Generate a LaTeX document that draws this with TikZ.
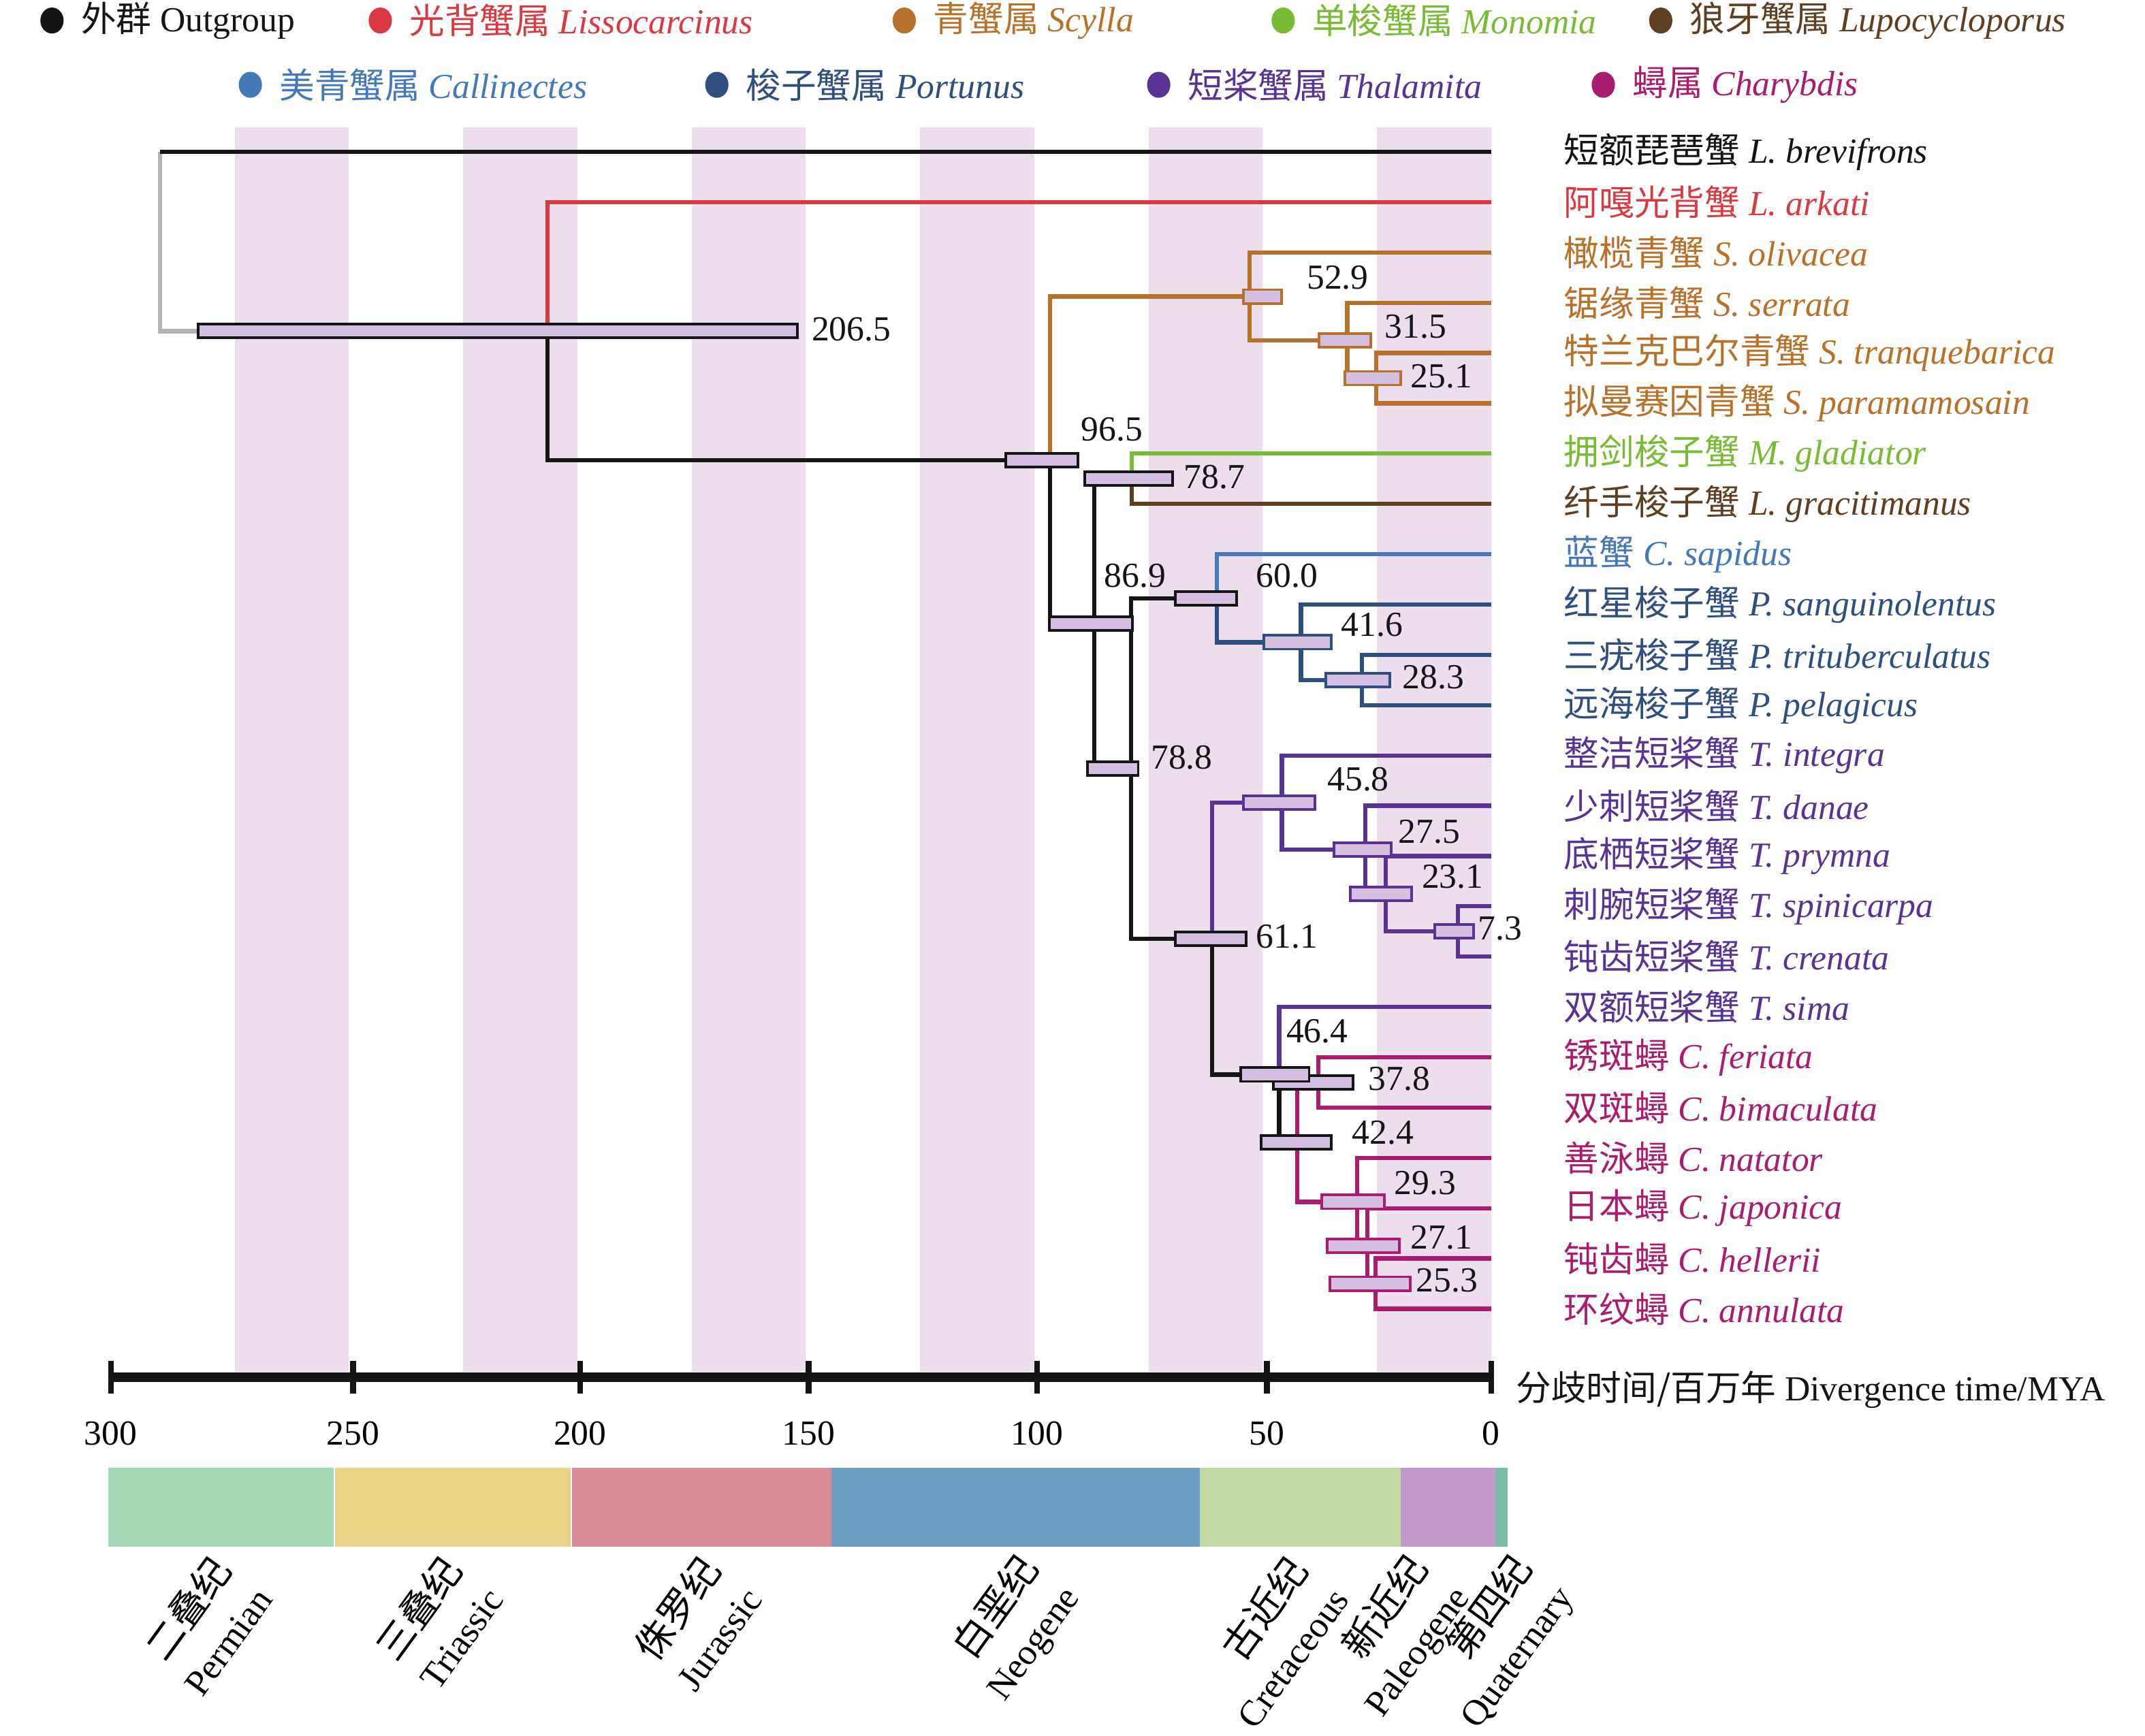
\documentclass[tikz,border=0pt]{standalone}
\usepackage{fontspec}
\setmainfont{Liberation Serif}
\newfontfamily\cjk{Noto Sans CJK SC}

\definecolor{cblack}{HTML}{151515}
\definecolor{cred}{HTML}{D93A42}
\definecolor{corange}{HTML}{B8712A}
\definecolor{cgreen}{HTML}{77BC34}
\definecolor{cbrown}{HTML}{5E3F22}
\definecolor{clblue}{HTML}{4479B8}
\definecolor{cdblue}{HTML}{2F4F7E}
\definecolor{cpurple}{HTML}{583393}
\definecolor{cmag}{HTML}{A91C6E}
\definecolor{cgray}{HTML}{B5B5B5}
\definecolor{band}{HTML}{EDDEEE}
\definecolor{barfill}{HTML}{D4BFE0}
\definecolor{cperm}{HTML}{A3D9B7}
\definecolor{ctri}{HTML}{E7D487}
\definecolor{cjur}{HTML}{D98B98}
\definecolor{cneo}{HTML}{6E9FC2}
\definecolor{ccre}{HTML}{C1D8A3}
\definecolor{cpal}{HTML}{C098CA}
\definecolor{cqua}{HTML}{7ABBA6}

\begin{document}
\begin{tikzpicture}[x=0.201mm,y=-0.201mm,
  declare function={age(\t)=1090-3.34*\t;},
  br/.style={line width=1.8pt,cblack},
  hpd/.style={fill=barfill,line width=1.1pt},
  txt/.style={font=\fontsize{14.7}{17}\selectfont,inner sep=0pt},
  agelbl/.style={txt,anchor=west,text=cblack},
  taxon/.style={txt,anchor=west},
  period/.style={txt,align=right,rotate=54,anchor=east,font=\fontsize{15.2}{21}\selectfont}]

  \useasboundingbox (0,0) rectangle (1568,1269);

  % time bands
  \foreach \a in {0,50,...,250}
    \fill[band] ({age(\a+25)},93) rectangle ({age(\a)},1003);

  % tips and names
  \foreach \i/\nm/\col/\cn/\la in {
    1/bre/cblack/短额琵琶蟹/L. brevifrons,
    2/ark/cred/阿嘎光背蟹/L. arkati,
    3/oli/corange/橄榄青蟹/S. olivacea,
    4/ser/corange/锯缘青蟹/S. serrata,
    5/tra/corange/特兰克巴尔青蟹/S. tranquebarica,
    6/par/corange/拟曼赛因青蟹/S. paramamosain,
    7/gla/cgreen/拥剑梭子蟹/M. gladiator,
    8/gra/cbrown/纤手梭子蟹/L. gracitimanus,
    9/sap/clblue/蓝蟹/C. sapidus,
    10/san/cdblue/红星梭子蟹/P. sanguinolentus,
    11/tri/cdblue/三疣梭子蟹/P. trituberculatus,
    12/pel/cdblue/远海梭子蟹/P. pelagicus,
    13/int/cpurple/整洁短桨蟹/T. integra,
    14/dan/cpurple/少刺短桨蟹/T. danae,
    15/pry/cpurple/底栖短桨蟹/T. prymna,
    16/spi/cpurple/刺腕短桨蟹/T. spinicarpa,
    17/cre/cpurple/钝齿短桨蟹/T. crenata,
    18/sim/cpurple/双额短桨蟹/T. sima,
    19/fer/cmag/锈斑蟳/C. feriata,
    20/bim/cmag/双斑蟳/C. bimaculata,
    21/nat/cmag/善泳蟳/C. natator,
    22/jap/cmag/日本蟳/C. japonica,
    23/hel/cmag/钝齿蟳/C. hellerii,
    24/ann/cmag/环纹蟳/C. annulata}
  {
    \coordinate (\nm) at (1090,{111+36.78*(\i-1)});
    \node[taxon,text=\col] (l\nm) at (1143,{111+36.78*(\i-1)}) {{\cjk \cn} \textit{\la}};
  }

  % internal nodes
  \coordinate (rt) at (117,111);
  \coordinate (n2065) at ({age(206.5)},242.1);
  \coordinate (n965) at ({age(96.5)},336.4);
  \coordinate (n529) at ({age(52.9)},216.8);
  \coordinate (n315) at ({age(31.5)},248.9);
  \coordinate (n251) at ({age(25.1)},276.5);
  \coordinate (n869) at ({age(86.9)},456.0);
  \coordinate (n787) at ({age(78.7)},350.1);
  \coordinate (n788) at ({age(78.8)},561.9);
  \coordinate (n600) at ({age(60.0)},437.4);
  \coordinate (n416) at ({age(41.6)},469.6);
  \coordinate (n283) at ({age(28.3)},497.2);
  \coordinate (n611) at ({age(61.1)},686.3);
  \coordinate (n458) at ({age(45.8)},586.9);
  \coordinate (n275) at ({age(27.5)},621.3);
  \coordinate (n231) at ({age(23.1)},653.5);
  \coordinate (n73) at ({age(7.3)},681.1);
  \coordinate (n464) at ({age(46.4)},785.7);
  \coordinate (n424) at ({age(42.4)},835.1);
  \coordinate (n378) at ({age(37.8)},791.4);
  \coordinate (n293) at ({age(29.3)},878.8);
  \coordinate (n271) at ({age(27.1)},911.0);
  \coordinate (n253) at ({age(25.3)},938.6);

  % branches
  \draw[br,cgray] (rt) |- (n2065);
  \draw[br] (rt) -- (bre);
  \draw[br,cred] (n2065) |- (ark);
  \draw[br] (n2065) |- (n965);
  \draw[br,corange] (n965) |- (n529);
  \draw[br] (n965) |- (n869);
  \draw[br,corange] (n529) |- (oli) (n529) |- (n315)
    (n315) |- (ser) (n315) |- (n251)
    (n251) |- (tra) (n251) |- (par);
  \draw[br] (n869) |- (n787) (n869) |- (n788);
  \draw[br,cgreen] (n787) |- (gla);
  \draw[br,cbrown] (n787) |- (gra);
  \draw[br] (n788) |- (n600) (n788) |- (n611);
  \draw[br,clblue] (n600) |- (sap);
  \draw[br,cdblue] (n600) |- (n416)
    (n416) |- (san) (n416) |- (n283)
    (n283) |- (tri) (n283) |- (pel);
  \draw[br,cpurple] (n611) |- (n458)
    (n458) |- (int) (n458) |- (n275)
    (n275) |- (dan) (n275) |- (n231)
    (n231) |- (pry) (n231) |- (n73)
    (n73) |- (spi) (n73) |- (cre);
  \draw[br] (n611) |- (n464);
  \draw[br,cpurple] (n464) |- (sim);
  \draw[br] (n464) |- (n424);
  \draw[br,cmag] (n424) |- (n378) (n424) |- (n293)
    (n378) |- (fer) (n378) |- (bim)
    (n293) |- (nat) (n293) |- (n271)
    (n271) |- (jap) (n271) |- (n253)
    (n253) |- (hel) (n253) |- (ann);

  % 95% HPD bars
  \foreach \lft/\rgt/\y/\col in {
    145/583/242.1/cblack, 735/788/336.4/cblack, 793/857/350.1/cblack,
    767/828/456/cblack, 795/832/561.9/cblack, 859/904/437.4/cblack,
    909/937/216.8/corange, 964/1002/248.9/corange, 983/1024/276.5/corange,
    924/973/469.6/cdblue, 969/1016/497.2/cdblue,
    859/911/686.3/cblack, 909/961/586.9/cpurple, 975/1017/621.3/cpurple,
    987/1032/653.5/cpurple, 1049/1077/681.1/cpurple,
    931/989/791.4/cblack, 907/957/785.7/cblack, 922/973/835.1/cblack,
    966/1012/878.8/cmag, 970/1023/911/cmag, 972/1031/938.6/cmag}
    \draw[hpd,draw=\col] (\lft,{\y-5}) rectangle (\rgt,{\y+5});

  % node ages
  \foreach \x/\y/\tm [count=\idx] in {
    593/241/206.5, 790/314/96.5, 865/349/78.7, 955/203/52.9, 1012/239/31.5,
    1031/275/25.1, 807/421/86.9, 918/421/60.0, 980/457/41.6, 1025/495/28.3,
    841/554/78.8, 970/570/45.8, 1022/608/27.5, 1039/641/23.1, 1080/679/7.3,
    918/685/61.1, 940/754/46.4, 1000/789/37.8, 988/828/42.4, 1019/865/29.3,
    1031/905/27.1, 1035/936/25.3}
    \node[agelbl] (a\idx) at (\x,\y) {\tm};

  % time axis
  \draw[line width=3.8pt,cblack] (81,1007) -- (1090,1007);
  \foreach \x/\tm [count=\idx] in {81/300,258/250,424/200,591/150,758/100,926/50,1090/0} {
    \draw[line width=2.4pt,cblack] (\x,995) -- (\x,1019);
    \node[txt] (t\idx) at (\x,1048) {\tm};
  }
  \node[agelbl] (xlab) at (1108,1016) {{\cjk 分歧时间/百万年} Divergence time/MYA};

  % geological periods
  \foreach \lft/\rgt/\col in {79/244.5/cperm, 244.5/417.5/ctri, 417.5/608/cjur,
      608/877/cneo, 877/1024/ccre, 1024/1093/cpal, 1093/1102/cqua}
    \fill[\col] (\lft,1073) rectangle (\rgt,1131);
  \draw[white,line width=0.6pt] (244.5,1073) -- (244.5,1131) (417.5,1073) -- (417.5,1131);
  \foreach \x/\cn/\en [count=\idx] in {176/二叠纪/Permian, 345/三叠纪/Triassic,
      534/侏罗纪/Jurassic, 768/白垩纪/Neogene, 963/古近纪/Cretaceous,
      1053/新近纪/Paleogene, 1129/第四纪/Quaternary}
    \node[period] (p\idx) at (\x,1152) {{\cjk\fontsize{16}{21}\selectfont \cn}\\\en};

  % legend
  \foreach \x/\y/\col/\cn/\la [count=\idx] in {
    38/15/cblack/外群/Outgroup, 278/15/cred/光背蟹属/\textit{Lissocarcinus},
    661/15/corange/青蟹属/\textit{Scylla}, 938/15/cgreen/单梭蟹属/\textit{Monomia},
    1214/15/cbrown/狼牙蟹属/\textit{Lupocycloporus},
    183/62/clblue/美青蟹属/\textit{Callinectes}, 524/62/cdblue/梭子蟹属/\textit{Portunus},
    847/62/cpurple/短桨蟹属/\textit{Thalamita}, 1172/62/cmag/蟳属/\textit{Charybdis}}
  {
    \fill[\col] (\x,\y) circle[x radius=8.5,y radius=9.5];
    \node[taxon,text=\col] (g\idx) at ({\x+21},\y) {{\cjk \cn} \la};
  }
\end{tikzpicture}
\end{document}
